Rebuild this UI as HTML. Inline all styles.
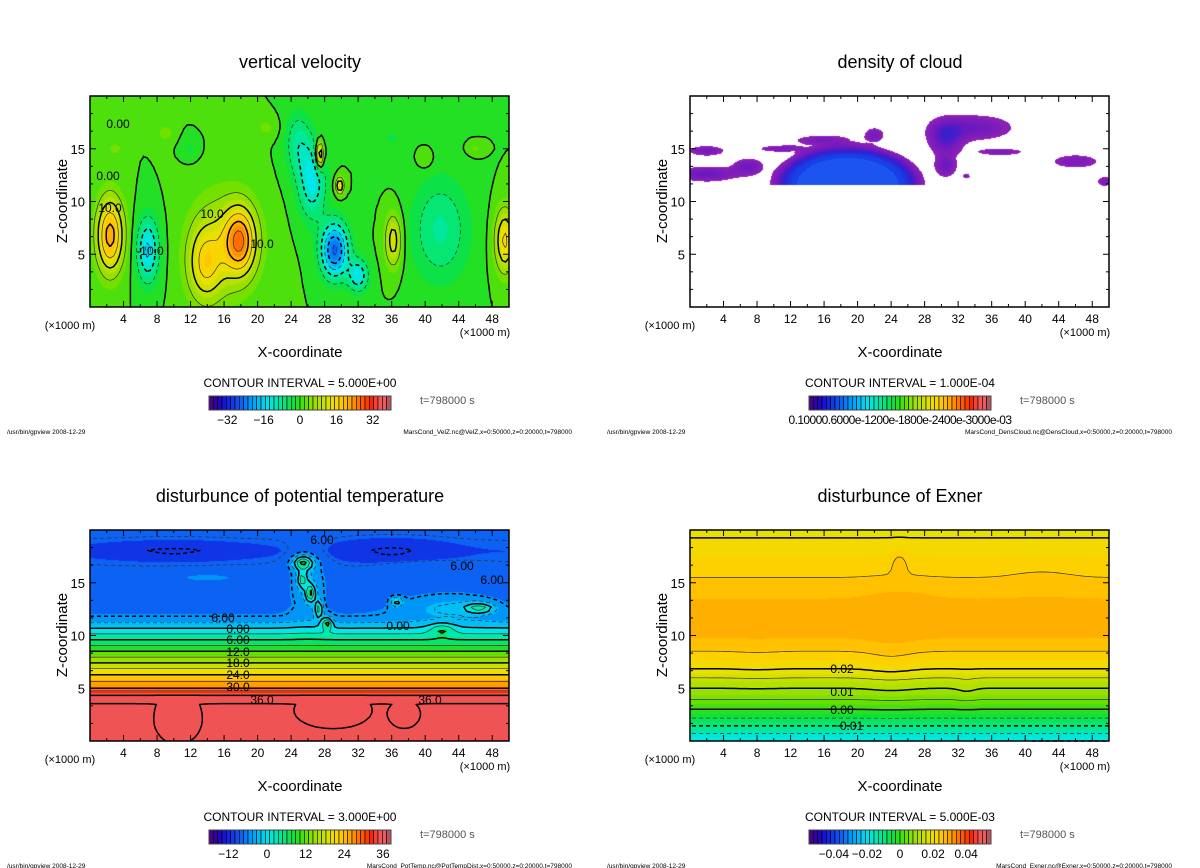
<!DOCTYPE html>
<html><head><meta charset="utf-8">
<style>
body{margin:0;background:#fff;width:1200px;height:868px;position:relative;overflow:hidden;font-family:"Liberation Sans",sans-serif}
canvas{position:absolute}
#ov{position:absolute;left:0;top:0}
</style></head>
<body>
<canvas id="c0" width="419" height="211" style="left:90px;top:96px"></canvas>
<canvas id="c1" width="419" height="211" style="left:690px;top:96px"></canvas>
<canvas id="c2" width="419" height="211" style="left:90px;top:530px"></canvas>
<canvas id="c3" width="419" height="211" style="left:690px;top:530px"></canvas>
<svg id="ov" width="1200" height="868" xmlns="http://www.w3.org/2000/svg"></svg>
<script>
// ---------------- data ----------------
const velX  = [2.4, 6.9, 13.7, 16, 17.9, 29.2, 26.5, 24.8, 27.4, 29.8, 36.2, 41.8, 49.5, 32, 3, 9, 12, 40, 46, 36, 21];
const velZ  = [6.8, 5.4, 4.0, 6, 6.3, 5.4, 12, 15.5, 14.4, 11.5, 6.3, 7.3, 6.3, 3, 15, 16.5, 15, 14, 15, 16, 17];
const velA  = [22, -16, 12, 9, 20, -26, -14, -8, 20, 16, 13, -8, 16, -14, 4, 4, -3, 3, 3, -3, 3];
const velSx = [1.6, 1.3, 2, 4, 1.8, 1.6, 1.6, 1.5, 0.5, 0.5, 1, 3.5, 1.2, 1.2, 0.8, 1, 1, 1, 1, 1.2, 1.5];
const velSz = [3.5, 3, 3.5, 5, 3, 2.5, 3.5, 3, 1.3, 0.8, 2.5, 5, 3, 1.5, 0.6, 0.8, 1, 1, 0.6, 0.8, 1];

const thZ = [0, 3.5, 4.0, 4.5, 4.8, 5.0, 6.3, 7.4, 8.5, 9.6, 10.7, 11.7, 13, 15, 17, 18, 19, 20];
const thV = [35.8, 35.95, 36.3, 36.5, 32, 30, 24, 18, 12, 6, 0, -6, -8, -8.5, -9, -9.5, -9, -8.5];
const thX  = [25.4, 25.3, 26.3, 27.3, 28.3, 26, 46.5, 36.6, 43, 42, 10, 36, 10.5, 29, 37.5, 14, 40];
const thBz = [16.9, 15.3, 14, 12.5, 11.2, 15, 12.6, 13.2, 12.8, 10.6, 18, 18, 1.5, 2.5, 2.3, 15.5, 16.5];
const thA  = [13, 9, 11, 10, 10, 5, 9, 8, 5, 5, -3, -3, 0.6, 0.5, 0.5, 2.5, 2.5];
const thSx = [1.3, 0.6, 0.6, 0.5, 0.6, 2.2, 1.8, 0.8, 6, 1.5, 8, 6, 2.3, 3.5, 1.5, 6, 5];
const thSz = [0.7, 0.8, 0.9, 0.9, 0.6, 3, 0.5, 0.5, 1.3, 0.6, 0.8, 1, 1.8, 1.2, 1, 0.6, 0.5];

const exZ = [0, 1, 2, 3, 4.5, 5.5, 6.8, 8.5, 10, 12, 14, 15.5, 17, 20];
const exV = [-0.02, -0.013, -0.006, 0.0, 0.008, 0.012, 0.02, 0.025, 0.028, 0.029, 0.027, 0.025, 0.023, 0.019];
const exX  = [24, 33, 25, 25, 42, 8];
const exBz = [7, 5, 17, 13, 15.5, 7];
const exA  = [0.0015, 0.0012, 0.003, 0.0008, 0.0008, 0.0005];
const exSx = [3, 1.2, 1, 4, 4, 3];
const exSz = [3, 1.5, 1.2, 3, 1.5, 2];

const clX  = [2, 7, 2, 11, 16, 22, 30.5, 30.5, 34, 37, 46, 49.5, 33];
const clZ  = [12.6, 13.3, 14.8, 15, 15.8, 16.3, 13.3, 16, 17, 14.7, 13.8, 11.9, 12.4];
const clA  = [0.5, 0.45, 0.4, 0.35, 0.4, 0.4, 0.45, 0.55, 0.45, 0.35, 0.35, 0.35, 0.3];
const clSx = [3.5, 1.8, 2.2, 3, 3.5, 1.2, 1.3, 2, 4.5, 3, 3, 1, 0.5];
const clSz = [0.7, 0.8, 0.5, 0.35, 0.5, 0.7, 1, 1.6, 1.2, 0.35, 0.7, 0.5, 0.3];
const domeCenter = [18.8, 11.6];
const domeSize = [8.6, 3.6];
const domeAmp = 1.05;

const xTicks = [4, 8, 12, 16, 20, 24, 28, 32, 36, 40, 44, 48];
const zTicks = [5, 10, 15];
const velCbLabels = [-32, -16, 0, 16, 32];
const thCbLabels = [-12, 0, 12, 24, 36];
const exCbLabels = [-0.04, -0.02, 0, 0.02, 0.04];

// ---------------- helpers ----------------
const NS = "http://www.w3.org/2000/svg";
const ov = document.getElementById('ov');
const W = 419, H = 211, XMAX = 50, ZMAX = 20;
const PANELS = [{L:90,T:96},{L:690,T:96},{L:90,T:530},{L:690,T:530}];
function px(p, x){ return p.L + x / XMAX * W; }
function pz(p, z){ return p.T + H - z / ZMAX * H; }

const cmapStops = [[0,'#500080'],[0.05,'#2800b0'],[0.10,'#1020e0'],[0.16,'#1050f0'],[0.22,'#0090f8'],[0.28,'#00c0f8'],[0.33,'#00e8e8'],[0.40,'#00e890'],[0.47,'#10e030'],[0.53,'#60e000'],[0.60,'#b0e000'],[0.67,'#e8e000'],[0.72,'#ffd000'],[0.78,'#ffa000'],[0.84,'#ff6000'],[0.89,'#ff2000'],[0.93,'#f05252'],[0.96,'#f06060'],[1.00,'#a05060']];
function hex(h){ return [parseInt(h.substr(1,2),16),parseInt(h.substr(3,2),16),parseInt(h.substr(5,2),16)]; }
const cStops = cmapStops.map(s=>[s[0],hex(s[1])]);
function cmap(t, stops){
  stops = stops || cStops;
  t = Math.max(0, Math.min(1, t));
  for (let i=1;i<stops.length;i++){
    if (t <= stops[i][0]){
      const a=stops[i-1], b=stops[i], f=(t-a[0])/(b[0]-a[0]);
      return [0,1,2].map(k=>Math.round(a[1][k]+(b[1][k]-a[1][k])*f));
    }
  }
  return stops[stops.length-1][1];
}
function interp(zs, vs, z){
  if (z<=zs[0]) return vs[0];
  for (let i=1;i<zs.length;i++) if (z<=zs[i]) return vs[i-1]+(vs[i]-vs[i-1])*(z-zs[i-1])/(zs[i]-zs[i-1]);
  return vs[vs.length-1];
}
function blobs(X,Z,A,SX,SZ,x,z){
  let s=0;
  for (let i=0;i<X.length;i++){ const dx=(x-X[i])/SX[i], dz=(z-Z[i])/SZ[i]; s+=A[i]*Math.exp(-(dx*dx+dz*dz)); }
  return s;
}
const fields = [
  (x,z)=>blobs(velX,velZ,velA,velSx,velSz,x,z),
  (x,z)=>{
    let v = blobs(clX,clZ,clA,clSx,clSz,x,z);
    const r = Math.pow((x-domeCenter[0])/domeSize[0],2)+Math.pow((z-domeCenter[1])/domeSize[1],2);
    if (z > domeCenter[1] && r < 1.3) v += domeAmp*Math.exp(-Math.pow(r,4));
    return v;
  },
  (x,z)=>interp(thZ,thV,z)+blobs(thX,thBz,thA,thSx,thSz,x,z),
  (x,z)=>interp(exZ,exV,z)+blobs(exX,exBz,exA,exSx,exSz,x,z)
];
const ranges = [[-40,40,2.5],[0.1,3,0.1],[-18.5,41,3],[-0.055,0.055,0.0025]];
const cloudStops = [[0,'#8a20b8'],[0.3,'#6a18c0'],[0.55,'#3020d0'],[0.8,'#1840e8'],[1,'#2068f8']].map(s=>[s[0],hex(s[1])]);

// ---------------- fills ----------------
for (let k=0;k<4;k++){
  const cv=document.getElementById('c'+k), ctx=cv.getContext('2d');
  const img=ctx.createImageData(W,H), d=img.data, f=fields[k], r=ranges[k];
  for (let j=0;j<H;j++){
    const z=(H-j-0.5)/H*ZMAX;
    for (let i=0;i<W;i++){
      const x=(i+0.5)/W*XMAX, v=f(x,z), o=(j*W+i)*4;
      let c;
      if (k===1){
        if (v<0.18){ c=[255,255,255]; }
        else { const q=Math.floor((v-0.18)/0.09)*0.09; c=cmap(q/0.9, cloudStops); }
      } else {
        const q=Math.floor((v-r[0])/r[2])+0.5;
        c=cmap(q*r[2]/(r[1]-r[0]));
      }
      d[o]=c[0]; d[o+1]=c[1]; d[o+2]=c[2]; d[o+3]=255;
    }
  }
  ctx.putImageData(img,0,0);
}

// ---------------- contours ----------------
function contourLines(f, level){
  const nx=125, nz=52, g=[];
  for (let j=0;j<=nz;j++){ g.push([]); for (let i=0;i<=nx;i++) g[j].push(f(i/nx*XMAX, j/nz*ZMAX)); }
  const segs=[];
  const T={1:[[3,0]],2:[[0,1]],3:[[3,1]],4:[[1,2]],5:[[3,0],[1,2]],6:[[0,2]],7:[[3,2]],8:[[2,3]],9:[[0,2]],10:[[0,1],[2,3]],11:[[1,2]],12:[[1,3]],13:[[0,1]],14:[[3,0]]};
  for (let j=0;j<nz;j++) for (let i=0;i<nx;i++){
    const a=g[j][i], b=g[j][i+1], c=g[j+1][i+1], dd=g[j+1][i];
    const idx=(a>level?1:0)|(b>level?2:0)|(c>level?4:0)|(dd>level?8:0);
    if (!T[idx]) continue;
    const ep=(e)=>{
      let t;
      if (e===0){ t=(level-a)/(b-a); return {k:'h'+i+'_'+j, p:[(i+t)/nx*XMAX, j/nz*ZMAX]}; }
      if (e===1){ t=(level-b)/(c-b); return {k:'v'+(i+1)+'_'+j, p:[(i+1)/nx*XMAX, (j+t)/nz*ZMAX]}; }
      if (e===2){ t=(level-dd)/(c-dd); return {k:'h'+i+'_'+(j+1), p:[(i+t)/nx*XMAX, (j+1)/nz*ZMAX]}; }
      t=(level-a)/(dd-a); return {k:'v'+i+'_'+j, p:[i/nx*XMAX, (j+t)/nz*ZMAX]};
    };
    for (const s of T[idx]){ const e1=ep(s[0]), e2=ep(s[1]); segs.push({k1:e1.k,p1:e1.p,k2:e2.k,p2:e2.p}); }
  }
  const m=new Map();
  segs.forEach((s,n)=>{ for (const e of [s.k1,s.k2]){ if(!m.has(e)) m.set(e,[]); m.get(e).push(n);} });
  const used=new Uint8Array(segs.length), lines=[];
  for (let n=0;n<segs.length;n++){
    if (used[n]) continue; used[n]=1;
    const s=segs[n]; const pts=[s.p1,s.p2];
    const walk=(key, front)=>{
      while(true){
        const list=m.get(key)||[]; let nx2=-1;
        for (const q of list) if(!used[q]){ nx2=q; break; }
        if (nx2<0) break; used[nx2]=1; const t=segs[nx2];
        if (t.k1===key){ front?pts.unshift(t.p2):pts.push(t.p2); key=t.k2; }
        else { front?pts.unshift(t.p1):pts.push(t.p1); key=t.k1; }
      }
    };
    walk(s.k2,false); walk(s.k1,true);
    lines.push(pts);
  }
  return lines;
}
function drawContours(k, levels, thickTest){
  const p=PANELS[k], f=fields[k];
  const gEl=document.createElementNS(NS,'g');
  
  
  for (const L of levels){
    const lines=contourLines(f,L);
    let dstr='';
    for (const pts of lines){
      dstr+='M'+pts.map(q=>px(p,q[0]).toFixed(1)+','+pz(p,q[1]).toFixed(1)).join('L');
    }
    if (!dstr) continue;
    const path=document.createElementNS(NS,'path');
    
    
    path.setAttribute('d',dstr);
    path.setAttribute('fill','none');
    path.setAttribute('stroke', thickTest(L)?'#000':'#333');
    path.setAttribute('stroke-width', thickTest(L)?1.5:0.7);
    if (L < -1e-9) path.setAttribute('stroke-dasharray','4,3');
    gEl.appendChild(path);
  }
  ov.appendChild(gEl);
}
const velLevels=[]; for (let v=-40; v<=40; v+=5) velLevels.push(v);
drawContours(0, velLevels, L=>Math.abs(L%10)<1e-6);
const thLevels=[]; for (let v=-15; v<=36; v+=3) thLevels.push(v);
drawContours(2, thLevels, L=>Math.abs(L%6)<1e-6);
const exLevels=[]; for (let v=-0.02; v<=0.03+1e-9; v+=0.005) exLevels.push(Math.round(v*1000)/1000);
drawContours(3, exLevels, L=>Math.abs(Math.round(L*1000)%10)<1e-6);

// ---------------- axes & text ----------------
function txt(x,y,s,size,anchor,name,extra){
  const t=document.createElementNS(NS,'text');
  
  
  t.setAttribute('x',x); t.setAttribute('y',y);
  t.setAttribute('font-size',size); t.setAttribute('text-anchor',anchor||'start');
  t.setAttribute('font-family','Liberation Sans, sans-serif');
  if (extra) for (const k in extra) t.setAttribute(k, extra[k]);
  t.textContent=s; ov.appendChild(t); return t;
}
function line(x1,y1,x2,y2,w,name){
  const l=document.createElementNS(NS,'line');
  
  
  l.setAttribute('x1',x1);l.setAttribute('y1',y1);l.setAttribute('x2',x2);l.setAttribute('y2',y2);
  l.setAttribute('stroke','#000');l.setAttribute('stroke-width',w||1);
  ov.appendChild(l);
}
const titles=['vertical velocity','density of cloud','disturbunce of potential temperature','disturbunce of Exner'];
const intervals=['CONTOUR INTERVAL = 5.000E+00','CONTOUR INTERVAL = 1.000E-04','CONTOUR INTERVAL = 3.000E+00','CONTOUR INTERVAL = 5.000E-03'];
const footers=['MarsCond_VelZ.nc@VelZ,x=0:50000,z=0:20000,t=798000','MarsCond_DensCloud.nc@DensCloud,x=0:50000,z=0:20000,t=798000','MarsCond_PotTemp.nc@PotTempDist,x=0:50000,z=0:20000,t=798000','MarsCond_Exner.nc@Exner,x=0:50000,z=0:20000,t=798000'];
PANELS.forEach((p,k)=>{
  const cx=p.L+210, dy=p.T-96;
  const r=document.createElementNS(NS,'rect');
   
  r.setAttribute('x',p.L);r.setAttribute('y',p.T);r.setAttribute('width',W);r.setAttribute('height',H);
  r.setAttribute('fill','none');r.setAttribute('stroke','#000');r.setAttribute('stroke-width',1.5);
  ov.appendChild(r);
  for (let x=2;x<50;x+=2){
    const major=xTicks.includes(x), len=major?6:3, X=px(p,x);
    line(X,p.T+H,X,p.T+H-len,1,'x-tick'); line(X,p.T,X,p.T+len,1,'x-tick-top');
  }
  for (let z=5/3; z<20; z+=5/3){
    const major=zTicks.some(t=>Math.abs(t-z)<0.01), len=major?6:3, Y=pz(p,z);
    line(p.L,Y,p.L+len,Y,1,'z-tick'); line(p.L+W,Y,p.L+W-len,Y,1,'z-tick-right');
  }
  xTicks.forEach(x=>txt(px(p,x),p.T+H+16,String(x),12,'middle','x-tick-label'));
  zTicks.forEach(z=>txt(p.L-5,pz(p,z)+5,String(z),13,'end','z-tick-label'));
  txt(cx,68+dy,titles[k],18,'middle','chart-title');
  txt(p.L-20,329+dy,'(×1000 m)',11,'middle','x-unit-left');
  txt(p.L+395,336+dy,'(×1000 m)',11,'middle','x-unit-right');
  txt(cx,357+dy,'X-coordinate',15,'middle','x-axis-title');
  txt(0,0,'Z-coordinate',15,'middle','z-axis-title',{transform:'translate('+(p.L-23)+','+(201+dy)+') rotate(-90)'});
  txt(cx,387+dy,intervals[k],12,'middle','contour-interval');
  txt(p.L+330,404+dy,'t=798000 s',11,'start','time-label',{fill:'#555'});
  txt(p.L-83,434+dy,'/usr/bin/gpview  2008-12-29',6.5,'start','footer-left');
  txt(p.L+482,434+dy,footers[k],6.5,'end','footer-right');
  const cbL=p.L+119, cbR=p.L+301, cbT=396+dy, cbB=410+dy, n=42, w=(cbR-cbL)/n;
  for (let i=0;i<n;i++){
    const c=cmap((i+0.5)/n);
    const s=document.createElementNS(NS,'rect');
     
    s.setAttribute('x',cbL+i*w);s.setAttribute('y',cbT);s.setAttribute('width',w);s.setAttribute('height',cbB-cbT);
    s.setAttribute('fill','rgb('+c.join(',')+')');s.setAttribute('stroke','#000');s.setAttribute('stroke-width',0.6);
    ov.appendChild(s);
  }
  const cbR2=document.createElementNS(NS,'rect');
   
  cbR2.setAttribute('x',cbL);cbR2.setAttribute('y',cbT);cbR2.setAttribute('width',cbR-cbL);cbR2.setAttribute('height',cbB-cbT);
  cbR2.setAttribute('fill','none');cbR2.setAttribute('stroke','#444');cbR2.setAttribute('stroke-width',1);
  ov.appendChild(cbR2);
  const labs=[velCbLabels,null,thCbLabels,exCbLabels][k];
  if (labs){
    const rg = k===2 ? [-18,38.5] : ranges[k];
    labs.forEach(v=>txt(cbL+(v-rg[0])/(rg[1]-rg[0])*(cbR-cbL),424+dy,v===0?'0':String(v).replace('-','−'),12,'middle','colorbar-label'));
  } else {
    txt(cx,424+dy,'0.10000.6000e-1200e-1800e-2400e-3000e-03',12,'middle','colorbar-label',{'letter-spacing':'-0.6'});
  }
});
const cl=[[0,108,180,'0.00'],[0,118,128,'0.00'],[0,212,218,'10.0'],[0,262,248,'10.0'],[0,150,255,'-10.0'],[0,110,212,'10.0'],
  [2,223,622,'6.00'],[2,238,633,'0.00'],[2,238,644,'6.00'],[2,238,656,'12.0'],[2,238,667,'18.0'],[2,238,679,'24.0'],[2,238,691,'30.0'],[2,262,704,'36.0'],
  [2,398,630,'0.00'],[2,430,704,'36.0'],[2,322,544,'6.00'],[2,462,570,'6.00'],[2,492,584,'6.00'],
  [3,842,673,'0.02'],[3,842,696,'0.01'],[3,842,714,'0.00'],[3,848,730,'−0.01']];
cl.forEach(c=>txt(c[1],c[2],c[3],12,'middle','contour-label'));
</script>
</body></html>
